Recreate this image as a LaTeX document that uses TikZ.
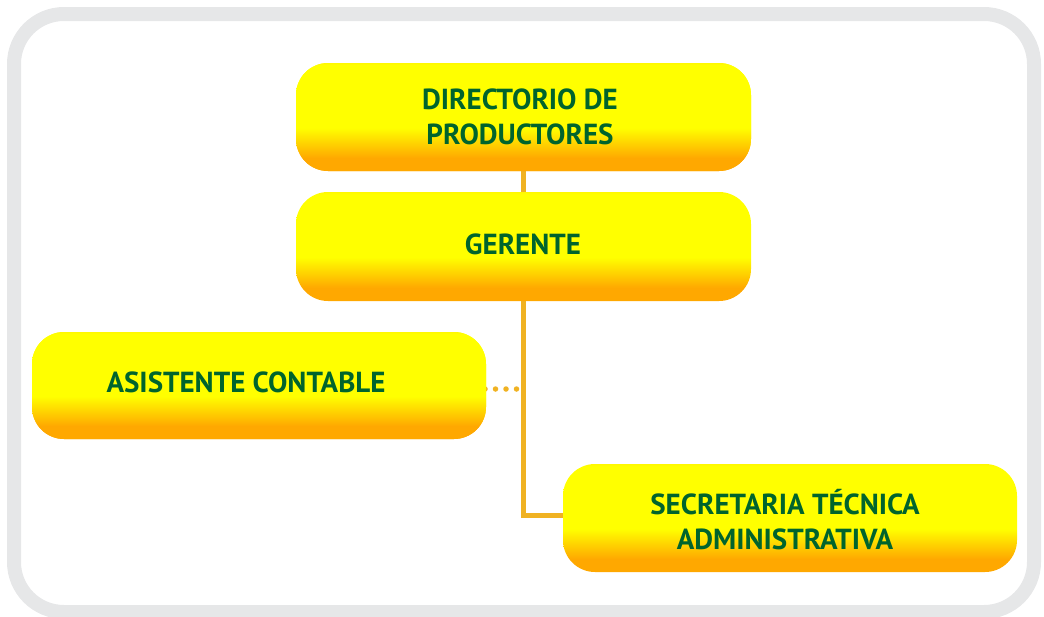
\documentclass[tikz,border=0pt]{standalone}
\usepackage{fontspec}
\setmainfont{PT Sans}
\definecolor{orangeC}{RGB}{255,168,0}
\definecolor{yellowC}{RGB}{255,255,0}
\definecolor{lineC}{RGB}{240,178,34}
\definecolor{bandC}{RGB}{230,231,232}
\definecolor{textC}{RGB}{0,100,45}
\pgfdeclareverticalshading{boxshade}{100bp}{color(0bp)=(orangeC); color(25bp)=(orangeC); color(31bp)=(orangeC); color(45bp)=(yellowC); color(74bp)=(yellowC); color(75bp)=(yellowC!92!orangeC); color(100bp)=(yellowC!92!orangeC)}
\tikzset{
  orgbox/.style={shading=boxshade, rounded corners=32pt, minimum width=455pt, minimum height=108pt, inner sep=0pt, draw=none},
  orgtext/.style={text=textC, font=\fontsize{29}{35}\selectfont\bfseries, align=center, inner sep=0pt},
  conn/.style={draw=lineC, line width=5pt},
  dotconn/.style={draw=lineC, line width=5.5pt, line cap=round, dash pattern=on 0pt off 10.5pt},
  frame/.style={draw=bandC, line width=14pt, rounded corners=50pt}
}
\begin{document}
\begin{tikzpicture}[x=1pt,y=-1pt]
\useasboundingbox (0,0) rectangle (1044,616);
\draw[frame] (14,14) rectangle (1034,612);
% boxes
\node[orgbox] (dir) at (523.5,117) {};
\node[orgbox, minimum height=109pt] (ger) at (523.5,246.5) {};
\node[orgbox, minimum width=454pt, minimum height=107pt] (asis) at (259,385.5) {};
\node[orgbox, minimum width=454pt] (sec) at (790,518) {};
% connectors
\coordinate (dotend) at (518,389);
\coordinate (dotstart) at (485,389);
\draw[dotconn] (dotstart) -- (dotend);
\draw[conn] (dir.south) -- (ger.north);
\coordinate (secin) at (563,515);
\draw[conn] (ger.south) |- (secin);
% redraw boxes on top
\node[orgbox] at (dir) {};
\node[orgbox, minimum width=454pt, minimum height=107pt] at (asis) {};
% texts
\node[orgtext] (dirt) at (520,117) {DIRECTORIO DE\\PRODUCTORES};
\node[orgtext] (gert) at (523,244) {GERENTE};
\node[orgtext] (asist) at (246,382.5) {ASISTENTE CONTABLE};
\node[orgtext] (sect) at (785,520) {SECRETARIA TÉCNICA\\ADMINISTRATIVA};
\end{tikzpicture}
\end{document}
